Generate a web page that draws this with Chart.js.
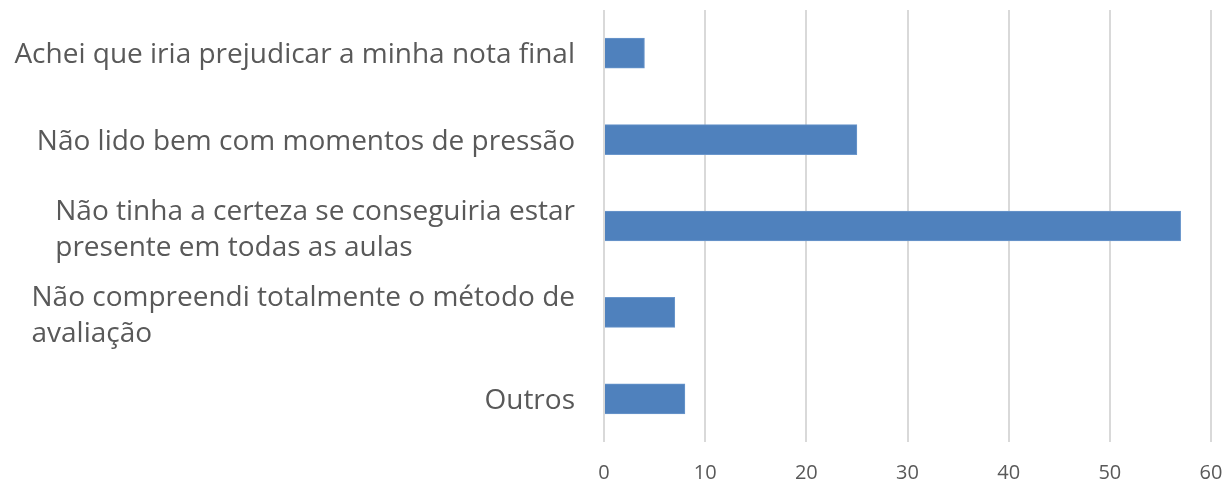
<!DOCTYPE html>
<html>
<head>
<meta charset="utf-8">
<script src="https://cdn.jsdelivr.net/npm/chart.js@4/dist/chart.umd.min.js"></script>
<style>
  html, body { margin: 0; padding: 0; background: #fff; }
  #wrap { width: 1230px; height: 485px; }
</style>
</head>
<body>
<div id="wrap"><canvas id="c"></canvas></div>
<script>
const categories = [
    ['Achei que iria prejudicar a minha nota final'],
    ['Não lido bem com momentos de pressão'],
    ['Não tinha a certeza se conseguiria estar', 'presente em todas as aulas'],
    ['Não compreendi totalmente o método de', 'avaliação'],
    ['Outros']
];
const values = [4, 25, 57, 7, 8];
const xTicks = [0, 10, 20, 30, 40, 50, 60];

const textColor = '#595959';
const fontFamily = '"Open Sans", "Noto Sans", sans-serif';

// Excel-style category labels: block right-aligned, lines left-aligned
const categoryLabels = {
    id: 'categoryLabels',
    afterDraw(chart) {
        const ctx = chart.ctx;
        const y = chart.scales.y;
        const right = chart.chartArea.left - 29;
        const lineHeight = 36;
        ctx.save();
        ctx.font = '28px ' + fontFamily;
        ctx.fillStyle = textColor;
        ctx.textBaseline = 'middle';
        ctx.textAlign = 'left';
        categories.forEach((lines, i) => {
            const cy = y.getPixelForValue(i) + 2;
            const w = Math.max(...lines.map((l) => ctx.measureText(l).width));
            const top = cy - (lines.length - 1) * lineHeight / 2 + (lines.length > 1 ? 2 : 0);
            lines.forEach((l, k) => {
                const lx = lines.length > 1 ? right - w : right - ctx.measureText(l).width;
                ctx.fillText(l, lx, top + k * lineHeight);
            });
        });
        ctx.restore();
    }
};

new Chart(document.getElementById('c'), {
    type: 'bar',
    data: {
        labels: categories.map((l) => l.join(' ')),
        datasets: [{
            data: values,
            backgroundColor: '#4f81bd',
            borderColor: '#6b97cc',
            borderWidth: 1,
            barThickness: 30
        }]
    },
    options: {
        indexAxis: 'y',
        responsive: true,
        maintainAspectRatio: false,
        animation: false,
        layout: { padding: { left: 604, top: 10, right: 19, bottom: 0 } },
        plugins: { legend: { display: false }, tooltip: { enabled: false } },
        scales: {
            x: {
                min: 0,
                max: 60,
                afterBuildTicks: (s) => { s.ticks = xTicks.map((v) => ({ value: v })); },
                afterFit: (s) => { s.height = 43; s.paddingLeft = 0; s.paddingRight = 0; },
                grid: { color: '#d9d9d9', lineWidth: 2, drawTicks: false },
                border: { display: false },
                ticks: {
                    color: textColor,
                    padding: 19,
                    font: { family: fontFamily, size: 20 }
                }
            },
            y: {
                display: false
            }
        }
    },
    plugins: [categoryLabels]
});
</script>
</body>
</html>
